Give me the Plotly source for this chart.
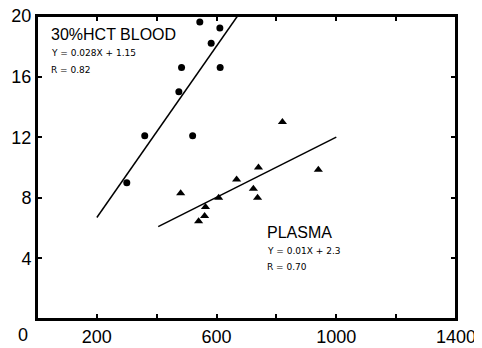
import plotly.graph_objects as go

# Data
blood_x = [300, 360, 520, 474, 483, 544, 582, 611, 612]
blood_y = [9.0, 12.1, 12.1, 15.0, 16.6, 19.6, 18.2, 19.2, 16.6]

plasma_x = [480, 540, 560, 563, 607, 667, 723, 737, 740, 820, 940]
plasma_y = [8.3, 6.45, 6.8, 7.4, 8.0, 9.2, 8.6, 8.0, 10.0, 13.0, 9.85]

blood_fit_x = [200, 670]
blood_fit_y = [6.7, 20.0]
plasma_fit_x = [405, 1000]
plasma_fit_y = [6.1, 12.0]

x_tickvals = [0, 200, 400, 600, 800, 1000, 1200, 1400]
x_ticktext = ["", "200", "", "600", "", "1000", "", "1400"]
y_tickvals = [4, 8, 12, 16, 20]
y_ticktext = ["4", "8", "12", "16", "20"]

FONT = "Liberation Sans, Arial, sans-serif"

fig = go.Figure()
fig.add_trace(go.Scatter(x=blood_fit_x, y=blood_fit_y, mode="lines",
                         line=dict(color="black", width=1.5), hoverinfo="skip"))
fig.add_trace(go.Scatter(x=plasma_fit_x, y=plasma_fit_y, mode="lines",
                         line=dict(color="black", width=1.5), hoverinfo="skip"))
fig.add_trace(go.Scatter(x=blood_x, y=blood_y, mode="markers",
                         marker=dict(symbol="circle", size=7, color="black"),
                         cliponaxis=False))
fig.add_trace(go.Scatter(x=plasma_x, y=plasma_y, mode="markers",
                         marker=dict(symbol="triangle-up", size=8, color="black")))

small = dict(family="DejaVu Sans, sans-serif", size=9, color="black")
big = dict(family=FONT, size=16, color="black")
ann = [
    dict(x=40, y=18.75, text="30%HCT BLOOD", font=big),
    dict(x=40, y=17.56, text="Y = 0.028X + 1.15", font=small),
    dict(x=40, y=16.43, text="R = 0.82", font=small),
    dict(x=762, y=5.74, text="PLASMA", font=big),
    dict(x=762, y=4.49, text="Y = 0.01X + 2.3", font=small),
    dict(x=762, y=3.43, text="R = 0.70", font=small),
]
for a in ann:
    fig.add_annotation(xref="x", yref="y", xanchor="left", yanchor="middle",
                       showarrow=False, **a)
fig.add_annotation(xref="paper", yref="paper", x=-0.034, y=-0.053, text="0",
                   showarrow=False, xanchor="center", yanchor="middle",
                   font=dict(family=FONT, size=18, color="black"))

# plot frame
fig.add_shape(type="rect", xref="paper", yref="paper", x0=0, y0=0, x1=1, y1=1,
              line=dict(color="black", width=2), layer="above")

axis_common = dict(showline=True, linecolor="black", linewidth=2, mirror="ticks",
                   ticks="inside", ticklen=5, tickwidth=1.5, tickcolor="black",
                   showgrid=False, zeroline=False, automargin=False,
                   ticklabeloverflow="allow",
                   tickfont=dict(family=FONT, size=18, color="black"))

# The page body has a default 8px margin, so the figure is sized and
# margined to compensate and fill the 482x348 window.
fig.update_layout(
    width=474, height=340,
    margin=dict(l=29, r=26, t=8, b=29),
    paper_bgcolor="white", plot_bgcolor="white",
    showlegend=False,
    xaxis=dict(range=[0, 1400], tickmode="array", tickvals=x_tickvals,
               ticktext=x_ticktext, **axis_common),
    yaxis=dict(range=[0, 20], tickmode="array", tickvals=y_tickvals,
               ticktext=y_ticktext, **axis_common),
)

fig.write_html("out.html")
